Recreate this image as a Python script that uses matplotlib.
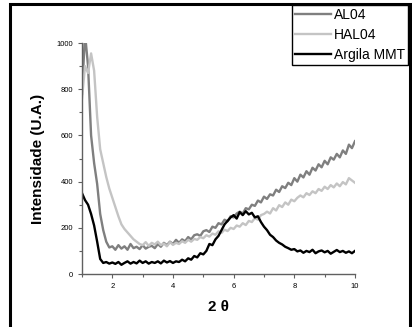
import numpy as np
import matplotlib
matplotlib.use('Agg')
import matplotlib.pyplot as plt
from matplotlib.patches import Rectangle
from matplotlib.ticker import MultipleLocator

plt.rcParams['font.family'] = ['Liberation Sans', 'DejaVu Sans']

# 2 theta sampling grid (degrees)
theta = np.round(np.arange(1.0, 10.01, 0.1), 1)

al04 = [780, 1040, 900, 600, 480, 390, 260, 190, 140, 115,
        120, 105, 125, 110, 120, 105, 130, 112, 118, 108,
        125, 110, 118, 122, 112, 130, 118, 135, 125, 140,
        130, 148, 135, 150, 142, 160, 150, 168, 172, 165,
        185, 190, 182, 205, 200, 220, 215, 235, 228, 250,
        245, 262, 270, 262, 285, 280, 300, 295, 318, 310,
        335, 325, 345, 340, 365, 355, 380, 372, 395, 385,
        415, 400, 430, 418, 445, 430, 460, 448, 475, 462,
        490, 475, 505, 495, 520, 505, 535, 520, 560, 545,
        575]

hal04 = [760, 900, 870, 955, 880, 680, 540, 480, 420, 370,
         330, 290, 250, 215, 195, 180, 165, 150, 140, 130,
         125, 138, 122, 135, 128, 140, 125, 132, 120, 138,
         126, 135, 130, 142, 135, 148, 140, 152, 148, 160,
         155, 168, 162, 175, 170, 185, 178, 192, 186, 200,
         195, 210, 205, 220, 212, 230, 225, 242, 235, 255,
         260, 270, 262, 285, 275, 298, 290, 310, 300, 322,
         315, 330, 340, 332, 350, 342, 358, 350, 368, 360,
         378, 368, 385, 375, 392, 380, 398, 388, 415, 405,
         395]

mmt = [350, 320, 300, 260, 210, 140, 65, 48, 52, 45,
       50, 44, 52, 40, 48, 55, 45, 52, 46, 58,
       48, 55, 45, 52, 48, 55, 46, 58, 50, 56,
       48, 55, 52, 62, 55, 68, 62, 78, 72, 90,
       85, 100, 130, 125, 150, 165, 190, 215, 230, 245,
       255, 240, 268, 255, 272, 258, 265, 245, 250, 225,
       205, 190, 170, 160, 145, 135, 128, 118, 112, 105,
       108, 98, 102, 92, 100, 95, 105, 90, 98, 102,
       94, 100, 88, 96, 104, 95, 100, 92, 98, 90,
       100]

series = [('AL04', al04, '#7f7f7f'),
          ('HAL04', hal04, '#c4c4c4'),
          ('Argila MMT', mmt, 'black')]

fig = plt.figure(figsize=(4.12, 3.27), dpi=100)
ax = fig.add_axes([0.199, 0.162, 0.6626, 0.7065])

for label, vals, color in series:
    ax.plot(theta, vals, color=color, lw=1.7, label=label)

ax.set_xlim(1, 10)
ax.set_ylim(0, 1000)
ax.xaxis.set_major_locator(MultipleLocator(2))
ax.xaxis.set_minor_locator(MultipleLocator(1))
ax.yaxis.set_major_locator(MultipleLocator(200))
ax.yaxis.set_minor_locator(MultipleLocator(100))
for s in ['top', 'right']:
    ax.spines[s].set_visible(False)
for s in ['left', 'bottom']:
    ax.spines[s].set_color('#606060')
    ax.spines[s].set_linewidth(1.0)
ax.tick_params(which='both', direction='out', colors='#606060',
               labelcolor='black', labelsize=5.5, width=0.8)
ax.tick_params(which='major', length=3)
ax.tick_params(which='minor', length=2)

ax.set_xlabel('2 θ', fontsize=11, fontweight='bold', labelpad=7)
ax.set_ylabel('Intensidade (U.A.)', fontsize=11, fontweight='bold', labelpad=8)

fig.legend(loc='upper right', bbox_to_anchor=(408 / 412, 1 - 5 / 327),
           fontsize=10, frameon=True, fancybox=False, edgecolor='black',
           framealpha=1, borderpad=0.2, labelspacing=0.45,
           handlelength=2.6, handletextpad=0.2, borderaxespad=0)
fig.legends[0].get_frame().set_linewidth(1.0)

# outer frame of the figure
fig.patches.append(Rectangle((10 / 412, -0.02), 400 / 412, 1 - 4 / 327 + 0.02,
                             transform=fig.transFigure, fill=False,
                             edgecolor='black', lw=2.2))

fig.savefig('out.png', dpi=100)
